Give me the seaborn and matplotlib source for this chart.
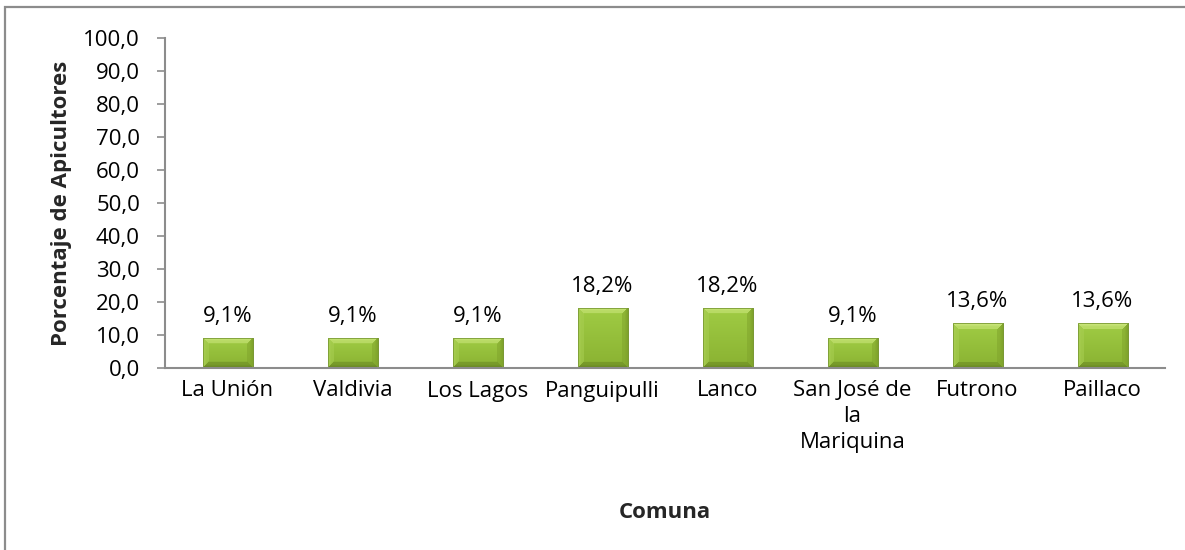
import numpy as np
import pandas as pd
import matplotlib
matplotlib.use("Agg")
import matplotlib.pyplot as plt
from matplotlib.ticker import FuncFormatter, MultipleLocator
from matplotlib.patches import Rectangle
import seaborn as sns

comunas = ["La Unión", "Valdivia", "Los Lagos", "Panguipulli", "Lanco",
           "San José de\nla\nMariquina", "Futrono", "Paillaco"]
porcentajes = [9.1, 9.1, 9.1, 18.2, 18.2, 9.1, 13.6, 13.6]
etiquetas = ["9,1%", "9,1%", "9,1%", "18,2%", "18,2%", "9,1%", "13,6%", "13,6%"]
y_label = "Porcentaje de Apicultores"
x_label = "Comuna"

sns.set_theme(style="white")
plt.rcParams['font.family'] = ['Open Sans', 'DejaVu Sans']
FS = 16

df = pd.DataFrame({"Comuna": comunas, "Porcentaje": porcentajes})

fig = plt.figure(figsize=(11.85, 5.5), dpi=100)
ax = fig.add_axes([165 / 1185, 1 - 368 / 550, 1000 / 1185, 330 / 550])

sns.barplot(data=df, x="Comuna", y="Porcentaje", ax=ax, width=0.4,
            color="#92BE3C", saturation=1, edgecolor="#6E8C2C", linewidth=0.6)

ax.set_ylim(0, 100)
ax.yaxis.set_major_locator(MultipleLocator(10))
ax.yaxis.set_major_formatter(FuncFormatter(lambda v, p: f"{v:.1f}".replace(".", ",")))
ax.set_xlim(-0.5, len(comunas) - 0.5)

fig.canvas.draw()

def bevel_image(wpx, hpx, b=6.0):
    ys, xs = np.mgrid[0:hpx, 0:wpx].astype(float)
    base_top = np.array([160, 204, 68]) / 255
    base_bot = np.array([138, 178, 50]) / 255
    t = (ys / max(hpx - 1, 1))[..., None]
    col = base_top * (1 - t) + base_bot * t
    top = np.array([206, 232, 128]) / 255
    left = np.array([168, 206, 82]) / 255
    right = np.array([128, 164, 44]) / 255
    bottom = np.array([104, 134, 34]) / 255
    dt = ys; db = hpx - 1 - ys; dl = xs; dr = wpx - 1 - xs
    d = np.stack([dt, db, dl, dr])
    which = np.argmin(d, axis=0)
    dmin = np.min(d, axis=0)
    w = np.clip(1 - dmin / b, 0, 1) ** 0.8
    w = np.where(dmin < b, np.maximum(w, 0.55), 0)[..., None]
    edgecol = np.zeros_like(col)
    for k, c in enumerate([top, bottom, left, right]):
        edgecol[which == k] = c
    col = col * (1 - w) + edgecol * w
    img = np.ones((hpx, wpx, 4))
    img[..., :3] = np.clip(col, 0, 1)
    return img

for patch in list(ax.patches):
    x0, w, h = patch.get_x(), patch.get_width(), patch.get_height()
    bb = patch.get_window_extent()
    wpx, hpx = max(int(round(bb.width)), 2), max(int(round(bb.height)), 2)
    im = ax.imshow(bevel_image(wpx, hpx), extent=(x0, x0 + w, 0, h),
                   aspect="auto", zorder=patch.get_zorder() + 0.1,
                   interpolation="bilinear")
    im.set_clip_path(patch)
    ax.add_patch(Rectangle((x0, 0), w, h, fill=False, edgecolor="#7A9A34",
                           linewidth=0.6, zorder=patch.get_zorder() + 0.2))

ax.set_xlim(-0.5, len(comunas) - 0.5)
ax.set_ylim(0, 100)

for i, (v, t) in enumerate(zip(porcentajes, etiquetas)):
    ax.annotate(t, (i, v), xytext=(0, 8), textcoords="offset points",
                ha="center", va="bottom", fontsize=FS, color="#000000")

for s in ["top", "right"]:
    ax.spines[s].set_visible(False)
for s in ["left", "bottom"]:
    ax.spines[s].set_color("#8C8C8C")
    ax.spines[s].set_linewidth(1.5)

ax.tick_params(axis="y", which="major", left=True, length=6, width=1.2,
               color="#8C8C8C", labelsize=FS, pad=12, labelcolor="black")
ax.tick_params(axis="x", bottom=False, labelsize=FS, pad=3, labelcolor="black")
for lab in ax.get_xticklabels():
    lab.set_linespacing(1.3)

ax.set_ylabel(y_label, fontsize=FS, fontweight="bold", labelpad=8)
ax.set_xlabel(x_label, fontsize=FS, fontweight="bold", labelpad=35)
ax.grid(False)

frame = Rectangle((5 / 1185, -0.05), 1.2, (550 - 7) / 550 + 0.05, transform=fig.transFigure,
                  fill=False, edgecolor="#8C8C8C", linewidth=1.6, clip_on=False)
fig.patches.append(frame)

fig.savefig("out.png", dpi=100)
